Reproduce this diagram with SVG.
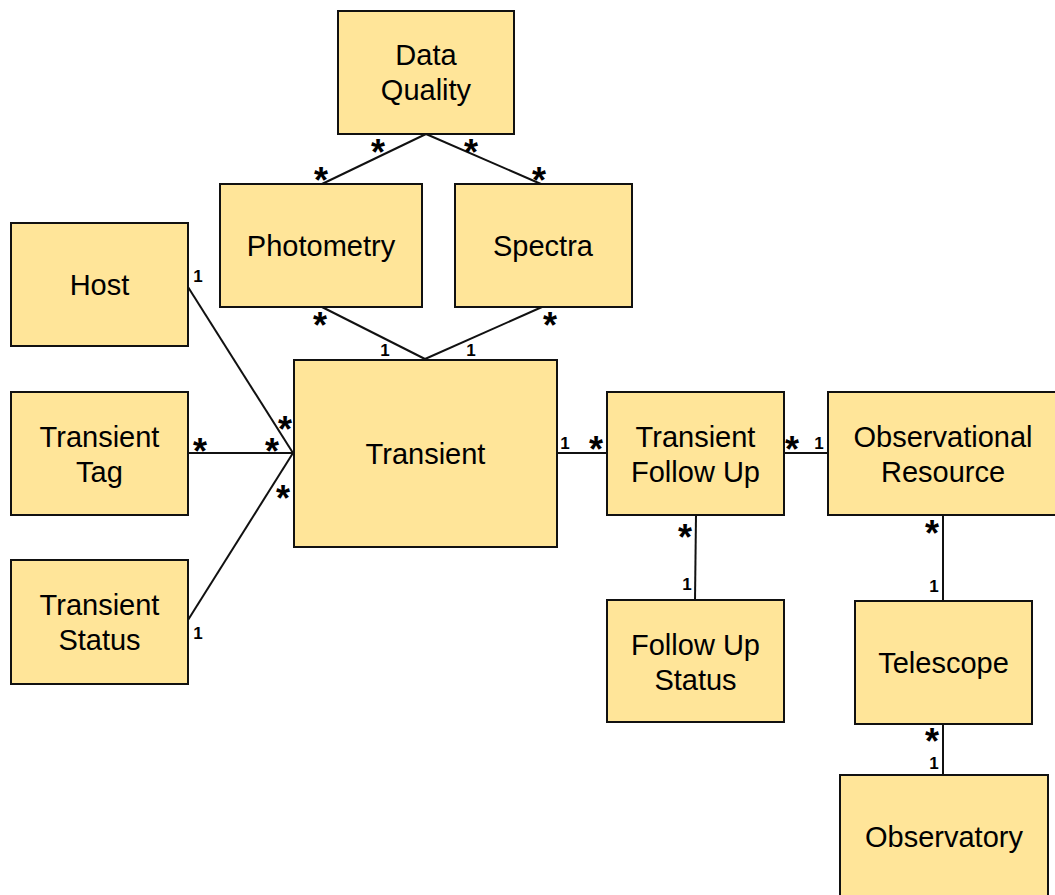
<svg xmlns="http://www.w3.org/2000/svg" width="1055" height="895" viewBox="0 0 1055 895">
<style>
.box{fill:#FFE599;stroke:#111;stroke-width:2}
.t{font-family:"Liberation Sans",Arial,sans-serif;font-size:29px;fill:#000;text-anchor:middle}
.c{stroke:#111;stroke-width:2;fill:none}
.s{font-family:"Liberation Sans",Arial,sans-serif;font-size:36px;font-weight:bold;fill:#000;text-anchor:middle}
.o{font-family:"Liberation Sans",Arial,sans-serif;font-size:17px;font-weight:bold;fill:#000;text-anchor:middle}
</style>
<rect width="1055" height="895" fill="#fff"/>
<g id="connectors">
<path class="c" d="M426,134 L322,184"/>
<path class="c" d="M426,134 L541,184"/>
<path class="c" d="M322,307 L425,359"/>
<path class="c" d="M542,307 L425,359"/>
<path class="c" d="M188,287 L293,453"/>
<path class="c" d="M188,453 L293,453"/>
<path class="c" d="M188,620 L293,453"/>
<path class="c" d="M557,453 L607,453"/>
<path class="c" d="M784,453 L828,453"/>
<path class="c" d="M696,515 L695,600"/>
<path class="c" d="M943,515 L943,601"/>
<path class="c" d="M943,724 L943,775"/>
<text class="s" x="378" y="165">*</text>
<text class="s" x="321" y="193">*</text>
<text class="s" x="471" y="165">*</text>
<text class="s" x="539" y="193">*</text>
<text class="s" x="320" y="338">*</text>
<text class="s" x="550" y="338">*</text>
<text class="o" x="385" y="356">1</text>
<text class="o" x="471" y="356">1</text>
<text class="o" x="198" y="282">1</text>
<text class="s" x="285" y="442">*</text>
<text class="s" x="200" y="464">*</text>
<text class="s" x="272" y="464">*</text>
<text class="s" x="283" y="511">*</text>
<text class="o" x="198" y="639">1</text>
<text class="o" x="565" y="449">1</text>
<text class="s" x="596" y="462">*</text>
<text class="s" x="792" y="462">*</text>
<text class="o" x="819" y="449">1</text>
<text class="s" x="685" y="550">*</text>
<text class="o" x="687" y="590">1</text>
<text class="s" x="932" y="546">*</text>
<text class="o" x="934" y="592">1</text>
<text class="s" x="932" y="754">*</text>
<text class="o" x="934" y="769">1</text>
</g>
<g id="data-quality"><rect class="box" x="338" y="11" width="176" height="123"/><text class="t" x="426" y="65">Data</text><text class="t" x="426" y="100">Quality</text></g>
<g id="photometry"><rect class="box" x="220" y="184" width="202" height="123"/><text class="t" x="321" y="256">Photometry</text></g>
<g id="spectra"><rect class="box" x="455" y="184" width="177" height="123"/><text class="t" x="543" y="256">Spectra</text></g>
<g id="host"><rect class="box" x="11" y="223" width="177" height="123"/><text class="t" x="99.5" y="295">Host</text></g>
<g id="transient-tag"><rect class="box" x="11" y="392" width="177" height="123"/><text class="t" x="99.5" y="447">Transient</text><text class="t" x="99.5" y="482">Tag</text></g>
<g id="transient-status"><rect class="box" x="11" y="560" width="177" height="124"/><text class="t" x="99.5" y="615">Transient</text><text class="t" x="99.5" y="650">Status</text></g>
<g id="transient"><rect class="box" x="294" y="360" width="263" height="187"/><text class="t" x="425.5" y="464">Transient</text></g>
<g id="transient-follow-up"><rect class="box" x="607" y="392" width="177" height="123"/><text class="t" x="695.5" y="447">Transient</text><text class="t" x="695.5" y="482">Follow Up</text></g>
<g id="observational-resource"><rect class="box" x="828" y="392" width="230" height="123"/><text class="t" x="943" y="447">Observational</text><text class="t" x="943" y="482">Resource</text></g>
<g id="follow-up-status"><rect class="box" x="607" y="600" width="177" height="122"/><text class="t" x="695.5" y="655">Follow Up</text><text class="t" x="695.5" y="690">Status</text></g>
<g id="telescope"><rect class="box" x="855" y="601" width="177" height="123"/><text class="t" x="943.5" y="673">Telescope</text></g>
<g id="observatory"><rect class="box" x="840" y="775" width="208" height="126"/><text class="t" x="944" y="847">Observatory</text></g>
</svg>
